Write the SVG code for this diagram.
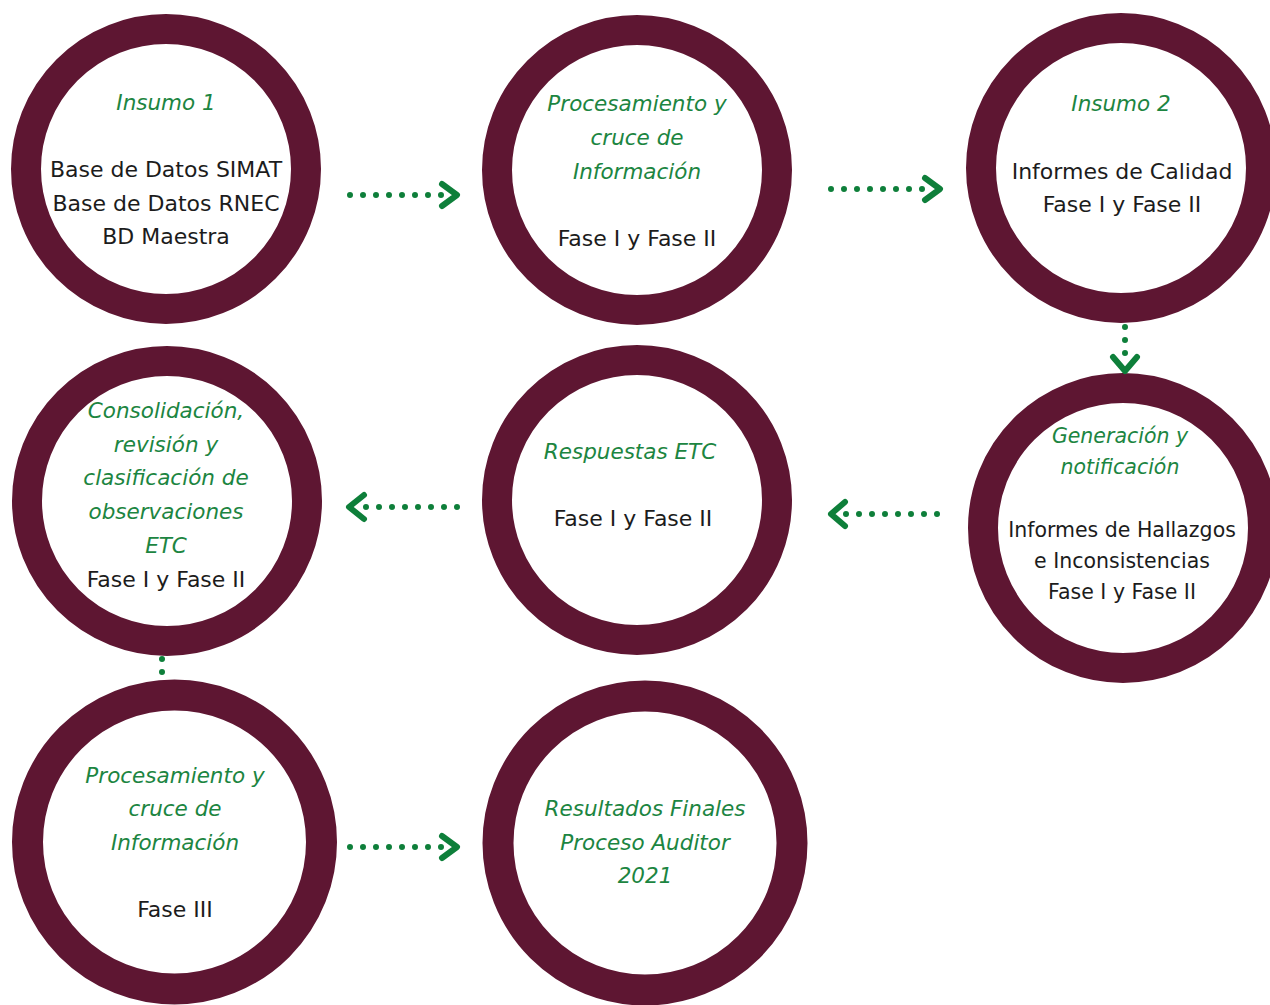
<svg xmlns="http://www.w3.org/2000/svg" width="1270" height="1005" viewBox="0 0 1270 1005">
<style>
.ring{fill:#fff;stroke:#5E1632;stroke-width:30}
.ringL{fill:#fff;stroke:#5E1632;stroke-width:31}
text{font-family:"DejaVu Sans","Liberation Sans",sans-serif;text-anchor:middle}
.g{fill:#1C8541;font-style:italic;font-size:21.5px}
.k{fill:#1c1c1c;font-size:22px}
.gs{fill:#1C8541;font-style:italic;font-size:20.5px}
.ks{fill:#1c1c1c;font-size:20.5px}
.dots{fill:none;stroke:#0E7F3A;stroke-width:6;stroke-linecap:round;stroke-dasharray:0 13}
.head{fill:none;stroke:#0E7F3A;stroke-width:6;stroke-linecap:round;stroke-linejoin:round}
</style>
<rect width="1270" height="1005" fill="#fff"/>
<g id="n1">
<circle class="ring" cx="166" cy="169" r="140"/>
<text class="g" x="166" y="110">Insumo 1</text>
<text class="k" x="166" y="177">Base de Datos SIMAT</text>
<text class="k" x="166" y="211">Base de Datos RNEC</text>
<text class="k" x="166" y="244">BD Maestra</text>
</g>
<g id="n2">
<circle class="ring" cx="637" cy="170" r="140"/>
<text class="g" x="637" y="111">Procesamiento y</text>
<text class="g" x="637" y="145">cruce de</text>
<text class="g" x="637" y="179">Información</text>
<text class="k" x="637" y="246">Fase I y Fase II</text>
</g>
<g id="n3">
<circle class="ring" cx="1121" cy="168" r="140"/>
<text class="g" x="1121" y="111">Insumo 2</text>
<text class="k" x="1122" y="179">Informes de Calidad</text>
<text class="k" x="1122" y="212">Fase I y Fase II</text>
</g>
<g id="n4">
<circle class="ring" cx="167" cy="501" r="140"/>
<text class="g" x="166" y="418">Consolidación,</text>
<text class="g" x="166" y="452">revisión y</text>
<text class="g" x="166" y="485">clasificación de</text>
<text class="g" x="166" y="519">observaciones</text>
<text class="g" x="166" y="553">ETC</text>
<text class="k" x="166" y="587">Fase I y Fase II</text>
</g>
<g id="n5">
<circle class="ring" cx="637" cy="500" r="140"/>
<text class="g" x="630" y="459">Respuestas ETC</text>
<text class="k" x="633" y="526">Fase I y Fase II</text>
</g>
<g id="n6">
<circle class="ring" cx="1123" cy="528" r="140"/>
<text class="gs" x="1120" y="443">Generación y</text>
<text class="gs" x="1120" y="474">notificación</text>
<text class="ks" x="1122" y="537">Informes de Hallazgos</text>
<text class="ks" x="1122" y="568">e Inconsistencias</text>
<text class="ks" x="1122" y="599">Fase I y Fase II</text>
</g>
<g id="n7">
<circle class="ringL" cx="174.5" cy="842" r="147"/>
<text class="g" x="175" y="783">Procesamiento y</text>
<text class="g" x="175" y="816">cruce de</text>
<text class="g" x="175" y="850">Información</text>
<text class="k" x="175" y="917">Fase III</text>
</g>
<g id="n8">
<circle class="ringL" cx="645" cy="843" r="147"/>
<text class="g" x="645" y="816">Resultados Finales</text>
<text class="g" x="645" y="850">Proceso Auditor</text>
<text class="g" x="645" y="883">2021</text>
</g>
<g id="connectors">
<line class="dots" x1="350" y1="195" x2="442" y2="195"/>
<polyline class="head" points="442,184 457,195 442,206"/>
<line class="dots" x1="831" y1="189" x2="923" y2="189"/>
<polyline class="head" points="925,178 940,189 925,200"/>
<line class="dots" x1="1125" y1="327" x2="1125" y2="354"/>
<polyline class="head" points="1113,357 1125,371 1137,357"/>
<line class="dots" x1="937" y1="514" x2="845" y2="514"/>
<polyline class="head" points="845,502 831,514 845,526"/>
<line class="dots" x1="457" y1="507" x2="365" y2="507"/>
<polyline class="head" points="364,495 349,507 364,519"/>
<circle cx="162" cy="659" r="3" fill="#0E7F3A"/>
<circle cx="162" cy="672" r="3" fill="#0E7F3A"/>
<line class="dots" x1="350" y1="847" x2="442" y2="847"/>
<polyline class="head" points="442,836 457,847 442,858"/>
</g>
</svg>
